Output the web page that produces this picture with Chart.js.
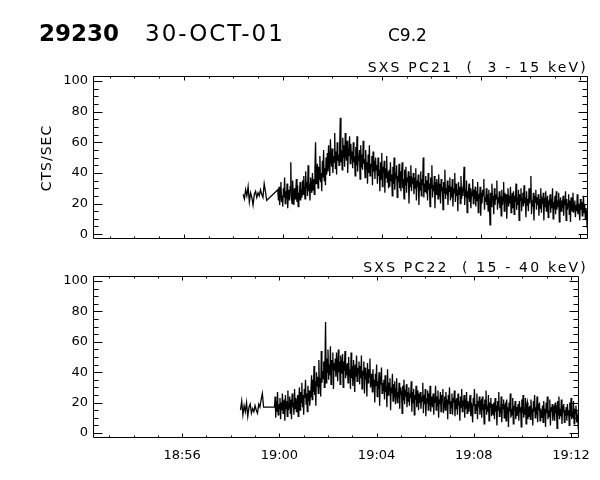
<!DOCTYPE html>
<html>
<head>
<meta charset="utf-8">
<script src="https://cdn.jsdelivr.net/npm/chart.js@4/dist/chart.umd.min.js"></script>
<style>
html, body { margin: 0; padding: 0; background: #fff; }
#wrap { position: relative; width: 600px; height: 480px; }
canvas { position: absolute; left: 0; }
</style>
</head>
<body>
<div id="wrap">
  <canvas id="grafico1" width="600" height="252" style="top:0px"></canvas>
  <canvas id="grafico2" width="600" height="228" style="top:252px"></canvas>
</div>
<script>
// time in minutes after 19:00
const cadenciaAntes = 0.05;     // 3 s
const cadencia = 0.025;         // 1.5 s
const inicioAntes = -1.6;
const inicioPrincipal = -0.2;
const xMin = -7.667;
const xMax = 12.333;

const xTickValues = [-4, 0, 4, 8, 12];
const xTickLabels = ['18:56', '19:00', '19:04', '19:08', '19:12'];
const yTickValues = [0, 20, 40, 60, 80, 100];

// SXS PC21 (3 - 15 keV)
const pc21Antes = [26,23,29,25,31,21,27,24,19,26,28,24,27,25,29,26,24,33,28,22];
const pc21 = [
  29,22,31,19,27,34,21,25,18,30,24,37,20,28,23,33,17,26,29,22,
  31,47,24,20,35,26,19,30,23,28,36,21,32,18,27,25,34,22,29,24,
  35,26,38,29,23,41,30,34,25,45,28,33,22,37,31,27,40,29,36,26,
  42,60,33,38,46,30,44,36,51,34,40,28,48,37,55,35,43,32,50,39,
  53,41,58,46,38,62,49,44,56,40,51,47,66,43,54,39,60,48,52,45,
  57,76,47,55,42,63,50,58,44,66,53,48,61,40,56,51,64,46,59,49,
  54,43,60,47,51,38,57,45,64,41,50,48,55,36,58,44,52,42,61,46,
  49,37,55,43,47,33,52,40,58,38,46,44,51,32,54,41,48,36,50,42,
  45,33,50,38,42,28,47,36,53,31,44,40,48,27,43,37,51,34,41,30,
  42,31,47,35,39,25,44,33,50,29,40,36,45,24,38,34,46,30,41,28,
  39,47,30,36,23,42,32,44,27,37,34,41,20,38,31,45,28,35,33,40,
  26,37,30,43,22,35,31,39,19,34,29,41,25,36,32,50,24,33,28,38,
  27,35,22,40,29,33,18,37,30,45,24,32,28,38,17,34,26,36,31,23,
  39,25,33,20,36,28,31,16,34,27,42,23,30,26,35,19,32,28,37,22,
  31,24,36,18,30,27,40,21,33,25,29,15,34,26,31,20,38,23,28,25,
  32,44,19,29,24,35,14,28,26,33,21,30,17,27,25,36,20,29,23,31,
  18,28,22,34,14,26,23,31,12,27,20,29,25,36,16,24,21,30,19,26,
  15,29,21,6,27,18,33,22,25,13,30,19,26,23,35,16,24,20,28,17,
  25,12,29,19,24,34,15,27,21,26,10,23,30,18,25,20,31,14,22,27,
  17,28,13,25,21,33,16,24,19,29,9,26,22,30,15,23,27,18,32,20,
  24,11,28,19,23,15,30,20,26,38,13,22,18,27,9,25,21,29,16,24,
  19,26,12,23,17,30,14,22,20,27,9,24,18,28,15,21,25,11,22,19,
  26,14,23,17,30,10,21,19,25,13,28,16,22,18,27,8,20,24,15,22,
  17,25,12,21,19,28,9,23,16,20,26,13,22,8,24,18,15,27,14,20,
  22,11,19,15,26,13,20,17,9,23,16,21,12,18,25,14,19,10,17,13,4
];

// SXS PC22 (15 - 40 keV)
const pc22Antes = [15,21,12,18,14,20,11,17,19,13,16,14,18,15,13,19,17,22,26,17];
const pc22 = [
  17,24,10,21,14,27,12,19,16,23,9,20,15,26,13,18,22,8,25,16,
  21,11,28,15,19,24,13,22,9,26,17,20,12,29,16,23,14,18,25,11,
  22,30,15,27,20,33,17,25,12,29,23,35,19,26,14,31,21,28,18,24,
  29,38,22,35,27,44,25,34,18,40,31,37,26,48,30,36,24,54,33,41,
  36,47,30,44,73,33,49,40,55,35,45,38,57,32,48,42,53,29,46,41,
  49,37,53,42,34,55,40,47,32,51,43,39,52,30,47,41,54,36,45,38,
  46,33,50,38,42,29,53,36,44,31,48,40,27,45,37,51,34,43,39,47,
  32,44,36,51,29,41,38,47,26,43,35,40,24,46,33,42,37,49,30,39,
  36,27,42,30,35,20,39,31,45,24,34,29,40,18,37,32,43,26,33,28,
  35,22,38,27,31,17,42,25,33,28,36,15,30,26,39,21,32,24,34,19,
  29,36,20,27,23,33,16,30,25,28,13,31,22,35,19,26,24,32,17,27,
  21,30,18,26,23,34,14,27,20,29,12,25,22,31,17,24,28,15,26,20,
  27,16,24,21,33,13,25,19,29,11,23,20,28,15,26,18,31,14,22,24,
  17,26,12,23,20,31,15,24,18,28,10,22,19,27,14,25,21,29,13,20,
  24,15,27,18,22,9,25,19,30,13,21,17,26,12,23,20,28,11,22,16,
  23,12,26,18,21,8,24,17,29,14,20,19,25,10,22,16,27,13,21,18,
  14,22,25,11,20,16,7,23,18,29,13,19,15,26,9,21,17,24,12,20,
  21,10,24,15,19,6,22,16,28,12,18,14,25,8,20,17,23,11,19,13,
  12,20,9,23,14,18,5,21,15,27,11,17,13,24,7,19,16,22,10,18,
  19,8,22,13,17,4,20,14,26,10,16,12,23,6,18,15,21,9,17,11,
  15,19,8,21,14,17,4,22,13,25,10,16,12,23,6,18,20,9,17,11,
  18,9,22,13,16,5,21,14,25,10,17,12,24,7,19,15,20,8,16,12,
  10,18,7,21,12,16,4,20,13,24,9,15,11,22,5,17,14,19,8,16,
  17,8,20,13,15,3,21,12,24,9,16,11,22,6,18,14,19,7,15,11,
  17,8,19,12,15,5,20,11,23,9,14,10,21,6,16,13,18,7,12,9,2
];

function montaPontos(antes, principal){
    let pontos = [];
    for(let i=0; i<antes.length; i++){
        pontos.push({x: inicioAntes + i*cadenciaAntes, y: antes[i]});
    }
    for(let i=0; i<principal.length; i++){
        pontos.push({x: inicioPrincipal + i*cadencia, y: principal[i]});
    }
    return pontos;
}

// box with inward ticks, like the IDL plot
const moldura = {
    id: 'moldura',
    afterDatasetsDraw(chart){
        const ctx = chart.ctx;
        const a = chart.chartArea;
        const sx = chart.scales.x;
        const sy = chart.scales.y;
        const L = Math.round(a.left)+0.5, R = Math.round(a.right)-0.5;
        const T = Math.round(a.top)+0.5, B = Math.round(a.bottom)-0.5;
        ctx.save();
        ctx.strokeStyle = '#000';
        ctx.lineWidth = 1;
        ctx.beginPath();
        ctx.rect(L, T, R-L, B-T);
        for(let m=-7; m<=12; m++){
            const px = Math.round(sx.getPixelForValue(m))+0.5;
            const len = (m % 4 === 0) ? 4 : 2;
            ctx.moveTo(px, B); ctx.lineTo(px, B-len);
            ctx.moveTo(px, T); ctx.lineTo(px, T+len);
        }
        for(let v=0; v<=100; v+=5){
            const py = Math.round(sy.getPixelForValue(v))+0.5;
            const len = (v % 20 === 0) ? 9 : 5;
            ctx.moveTo(L, py); ctx.lineTo(L+len, py);
            ctx.moveTo(R, py); ctx.lineTo(R-len, py);
        }
        ctx.stroke();
        ctx.restore();
    }
};

function textos(lista){
    return {
        id: 'textos',
        afterDraw(chart){
            const ctx = chart.ctx;
            ctx.save();
            ctx.fillStyle = '#000';
            ctx.textBaseline = 'alphabetic';
            for(const t of lista){
                ctx.font = t.font;
                ctx.letterSpacing = t.esp || '0px';
                ctx.textAlign = t.align || 'left';
                if(t.rot){
                    ctx.save();
                    ctx.translate(t.x, t.y);
                    ctx.rotate(-Math.PI/2);
                    ctx.textAlign = 'center';
                    ctx.fillText(t.txt, 0, 0);
                    ctx.restore();
                } else {
                    ctx.fillText(t.txt, t.x, t.y);
                }
            }
            ctx.restore();
        }
    };
}

function criaGrafico(canvaHTML, pontos, comRotulos, padTopo, altX, listaTextos){
    const canvas = document.getElementById(canvaHTML);
    return new Chart(canvas, {
        type: 'line',
        data: {
            datasets: [{
                data: pontos,
                borderColor: '#000',
                borderWidth: 1.3,
                pointRadius: 0,
                tension: 0,
                fill: false
            }]
        },
        options: {
            responsive: false,
            animation: false,
            devicePixelRatio: 1,
            layout: { padding: { top: padTopo, right: 12, left: 0, bottom: 0 } },
            plugins: { legend: { display: false }, tooltip: { enabled: false } },
            scales: {
                x: {
                    type: 'linear',
                    min: xMin, max: xMax,
                    grid: { display: false, drawTicks: false },
                    border: { display: false },
                    afterBuildTicks: (s) => { s.ticks = xTickValues.map(v => ({value: v})); },
                    afterFit: (s) => { s.height = altX; },
                    ticks: {
                        display: comRotulos,
                        autoSkip: false,
                        maxRotation: 0,
                        padding: 10,
                        color: '#000',
                        font: { family: 'DejaVu Sans', size: 13 },
                        callback: (v) => xTickLabels[xTickValues.indexOf(v)]
                    }
                },
                y: {
                    min: -3.3, max: 103.3,
                    grid: { display: false, drawTicks: false },
                    border: { display: false },
                    afterBuildTicks: (s) => { s.ticks = yTickValues.map(v => ({value: v})); },
                    afterFit: (s) => { s.width = 93; },
                    ticks: {
                        padding: 5,
                        color: '#000',
                        font: { family: 'DejaVu Sans', size: 13 }
                    }
                }
            }
        },
        plugins: [moldura, textos(listaTextos)]
    });
}

criaGrafico('grafico1', montaPontos(pc21Antes, pc21), false, 76, 7, [
    {txt: '29230', x: 39, y: 41, font: 'bold 23px "DejaVu Sans"'},
    {txt: '30-OCT-01', x: 145, y: 41, font: '23px "DejaVu Sans"', esp: '2px'},
    {txt: 'C9.2', x: 388, y: 41, font: '17px "DejaVu Sans"'},
    {txt: 'SXS PC21  (  3 - 15 keV)', x: 588, y: 72, font: '14px "DejaVu Sans"', esp: '2.2px', align: 'right'},
    {txt: 'CTS/SEC', x: 51, y: 158, font: '14px "DejaVu Sans"', esp: '1px', rot: true}
]);

criaGrafico('grafico2', montaPontos(pc22Antes, pc22), true, 24, 42, [
    {txt: 'SXS PC22  ( 15 - 40 keV)', x: 588, y: 20, font: '14px "DejaVu Sans"', esp: '2.2px', align: 'right'}
]);
</script>
</body>
</html>
